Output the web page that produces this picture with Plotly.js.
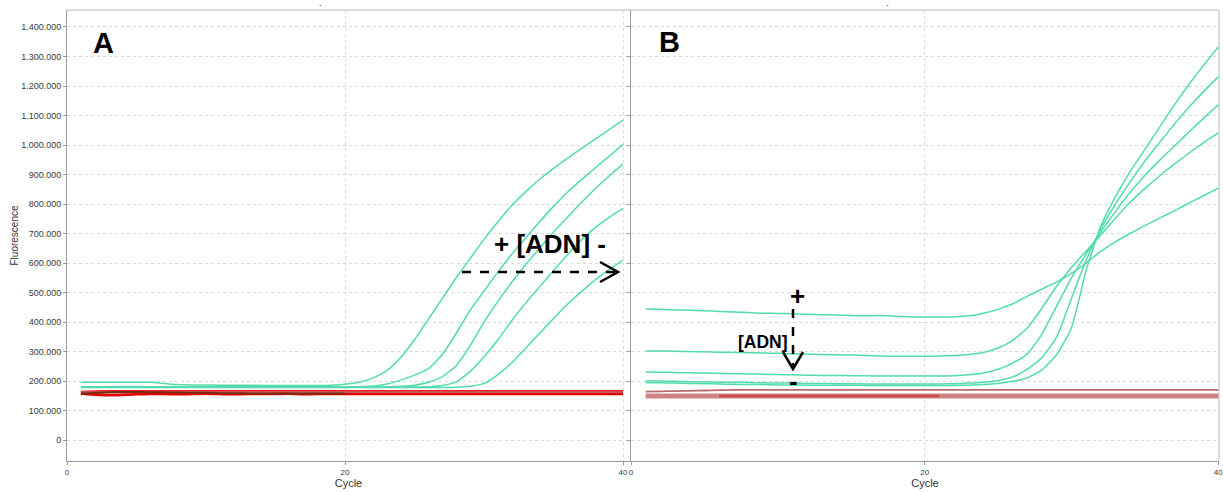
<!DOCTYPE html>
<html>
<head>
<meta charset="utf-8">
<script src="https://cdn.plot.ly/plotly-3.0.1.min.js"></script>
<style>
  html, body { margin: 0; padding: 0; background: #ffffff; }
  #chart { width: 1223px; height: 492px; }
</style>
</head>
<body>
<div id="chart"></div>
<script>
// Amplification cycles (x values shared by every curve)
const cycles = [1,2,3,4,5,6,7,8,9,10,11,12,13,14,15,16,17,18,19,20,
                21,22,23,24,25,26,27,28,29,30,31,32,33,34,35,36,37,38,39,40];

// Panel A: dilution series, fluorescence in thousands
const panelA_s1 = [196,196,196,196,196,196,192,188,187,187,186,186,186,185,185,185,185,185,186,189,
                   196,210,235,280,340,410,480,550,615,680,740,795,842,884,921,955,988,1020,1052,1085];
const panelA_s2 = [181,181,181,181,181,181,180,180,180,180,180,180,180,180,180,180,180,180,180,180,
                   181,183,190,203,220,242,290,362,440,505,570,630,685,740,792,840,882,922,962,1002];
const panelA_s3 = [180,180,180,180,180,180,180,180,180,180,180,180,180,180,180,180,180,180,180,180,
                   180,180,180,182,186,196,215,252,320,400,470,535,595,650,705,755,805,852,895,935];
const panelA_s4 = [179,179,179,179,179,179,179,179,179,179,179,179,179,179,179,179,179,179,179,179,
                   179,179,179,179,180,181,185,197,232,282,340,405,465,520,575,628,678,720,755,785];
const panelA_s5 = [178,178,178,178,178,178,178,178,178,178,178,178,178,178,178,178,178,178,178,178,
                   178,178,178,178,178,178,178,179,182,192,222,262,312,362,412,460,503,543,578,610];
// Panel A: negative controls
const panelA_n1 = [163,165,166,166,166,166,166,166,166,166,166,166,166,166,166,166,166,166,166,166,
                   166,166,166,166,166,166,166,166,166,166,166,166,166,166,166,166,166,166,166,166];
const panelA_n2 = [160,161,161,161,161,161,161,161,161,161,161,161,161,161,161,161,161,161,161,161,
                   161,161,161,161,161,161,161,161,161,161,161,161,161,161,161,161,161,161,161,161];
const panelA_n3 = [157,154,152,153,155,156,156,155,156,157,156,155,156,156,156,157,155,156,156,156,
                   156,156,156,156,156,156,156,156,156,156,156,156,156,156,156,156,156,156,156,156];
const panelA_n4 = [156,160,162,163,163,162,162,161,160,160,159,159,158,158,158,158,158,158,158,158,
                   null,null,null,null,null,null,null,null,null,null,null,null,null,null,null,null,null,null,null,null];

// Panel B: dilution series, fluorescence in thousands
const panelB_s1 = [444,443,441,440,438,436,434,432,430,429,428,426,425,424,422,421,422,420,418,417,
                   417,418,421,430,443,462,488,512,536,565,600,640,672,700,727,752,777,803,828,854];
const panelB_s2 = [302,302,301,300,299,298,297,296,295,294,292,291,290,289,288,287,285,284,284,284,
                   285,287,290,297,312,338,380,448,522,585,640,695,752,806,852,895,935,972,1008,1041];
const panelB_s3 = [231,230,229,228,227,226,225,224,223,222,221,220,219,219,218,218,217,217,217,217,
                   217,218,221,227,240,261,292,360,455,550,630,705,775,840,897,948,996,1044,1091,1136];
const panelB_s4 = [201,200,199,198,197,196,196,195,194,193,193,192,192,191,191,190,190,190,190,190,
                   190,191,193,196,202,214,240,280,350,480,610,715,800,875,945,1008,1070,1128,1181,1231];
const panelB_s5 = [194,194,193,192,191,190,189,188,188,187,187,186,186,186,186,185,185,185,185,185,
                   185,185,186,188,192,199,211,238,290,380,575,725,825,910,985,1060,1135,1205,1270,1332];
// Panel B: negative controls
const panelB_n1 = [164,165,166,167,168,169,170,170,170,170,170,170,170,170,170,170,170,170,170,170,
                   170,170,170,170,170,170,170,170,170,170,170,170,170,170,170,170,170,170,170,170];
const panelB_n2 = [149,149,149,149,149,149,149,149,149,149,149,149,149,149,149,149,149,149,149,149,
                   149,149,149,149,149,149,149,149,149,149,149,149,149,149,149,149,149,149,149,149];
const panelB_n3 = [null,null,null,null,null,149,149,149,149,149,149,149,149,149,149,149,149,149,149,149,
                   149,null,null,null,null,null,null,null,null,null,null,null,null,null,null,null,null,null,null,null];

// Axis ticks
const yTicks = [0,100000,200000,300000,400000,500000,600000,700000,800000,900000,1000000,1100000,1200000,1300000,1400000];
const xTicks = [0,20,40];
const xTickText = ['0','20','40'];

const W = 1223, H = 492;
const px = v => v / W;          // pixel column -> paper x
const py = v => 1 - v / H;      // pixel row -> paper y

const GREEN = '#52dcab';
const FONT = 'Liberation Sans, Arial, sans-serif';
const scale = arr => arr.map(v => v === null ? null : v * 1000);

function curve(vals, axis, color, width) {
  return {
    x: cycles, y: scale(vals), type: 'scatter', mode: 'lines',
    xaxis: axis === 2 ? 'x2' : 'x', yaxis: axis === 2 ? 'y2' : 'y',
    line: { color: color, width: width, shape: 'spline', smoothing: 0.5 },
    hoverinfo: 'skip', showlegend: false, connectgaps: false
  };
}

const traces = [
  // panel A controls
  curve(panelA_n1, 1, '#ff1a1a', 2.2),
  curve(panelA_n2, 1, 'rgba(170,110,110,0.85)', 2.5),
  curve(panelA_n3, 1, '#e80000', 2.6),
  curve(panelA_n4, 1, '#7a2a10', 2),
  // panel A samples
  curve(panelA_s1, 1, GREEN, 1.5),
  curve(panelA_s2, 1, GREEN, 1.5),
  curve(panelA_s3, 1, GREEN, 1.5),
  curve(panelA_s4, 1, GREEN, 1.5),
  curve(panelA_s5, 1, GREEN, 1.5),
  // panel B controls
  curve(panelB_n1, 2, 'rgba(175,80,80,0.85)', 1.8),
  curve(panelB_n2, 2, 'rgba(190,100,100,0.8)', 5),
  curve(panelB_n3, 2, 'rgba(215,30,30,0.6)', 2.5),
  // panel B samples
  curve(panelB_s1, 2, GREEN, 1.5),
  curve(panelB_s2, 2, GREEN, 1.5),
  curve(panelB_s3, 2, GREEN, 1.5),
  curve(panelB_s4, 2, GREEN, 1.5),
  curve(panelB_s5, 2, GREEN, 1.5)
];

const yDomain = [py(461), py(10)];
const yRange = [-71000, 1457600];
const gridStyle = { showgrid: true, gridcolor: '#dadada', griddash: 'dot', gridwidth: 1, zeroline: false };
const axisLine = { showline: true, linecolor: '#9a9a9a', linewidth: 1, ticks: 'outside', ticklen: 3, tickcolor: '#9a9a9a' };
const xTickFont = { family: FONT, size: 8, color: '#3a3a3a' };
const cycleTitle = { text: 'Cycle', font: { family: FONT, size: 11, color: '#333' }, standoff: 3 };

const layout = {
  width: W, height: H,
  margin: { l: 0, r: 0, t: 0, b: 0 },
  paper_bgcolor: '#ffffff', plot_bgcolor: '#ffffff',
  separators: ',.',
  showlegend: false,
  xaxis: Object.assign({
    domain: [px(67), px(630)], range: [0, 40.5], anchor: 'y',
    tickvals: xTicks, ticktext: xTickText, tickfont: xTickFont,
    ticklabeloverflow: 'allow', title: cycleTitle
  }, axisLine, gridStyle),
  yaxis: Object.assign({
    domain: yDomain, range: yRange, anchor: 'x',
    tickvals: yTicks, tickformat: ',d',
    tickfont: { family: FONT, size: 9, color: '#3a3a3a' },
    title: { text: 'Fluorescence', font: { family: FONT, size: 10, color: '#333' }, standoff: 0 }
  }, axisLine, gridStyle),
  xaxis2: Object.assign({
    domain: [px(631), px(1219)], range: [0, 40.05], anchor: 'y2',
    tickvals: xTicks, ticktext: xTickText, tickfont: xTickFont,
    ticklabeloverflow: 'allow', title: cycleTitle
  }, axisLine, gridStyle),
  yaxis2: Object.assign({
    domain: yDomain, range: yRange, anchor: 'x2',
    tickvals: yTicks, showticklabels: false
  }, axisLine, gridStyle),
  shapes: [
    // light frame on top/right of each panel
    { type: 'line', xref: 'paper', yref: 'paper', x0: px(67), x1: px(630), y0: py(10), y1: py(10), line: { color: '#dcdcdc', width: 2 }, layer: 'below' },
    { type: 'line', xref: 'paper', yref: 'paper', x0: px(631), x1: px(1219), y0: py(10), y1: py(10), line: { color: '#dcdcdc', width: 2 }, layer: 'below' },
    { type: 'line', xref: 'paper', yref: 'paper', x0: px(1219), x1: px(1219), y0: py(10), y1: py(461), line: { color: '#d0d0d0', width: 1.5 }, layer: 'below' },
    // horizontal dashed arrow (panel A)
    { type: 'line', xref: 'paper', yref: 'paper', x0: px(462), x1: px(616), y0: py(272), y1: py(272), line: { color: '#000', width: 2.5, dash: 'dash' } },
    { type: 'path', xref: 'paper', yref: 'paper',
      path: 'M ' + px(600) + ' ' + py(262) + ' L ' + px(618) + ' ' + py(272) + ' L ' + px(600) + ' ' + py(282),
      line: { color: '#000', width: 2.5 } },
    // vertical dashed arrow (panel B)
    { type: 'line', xref: 'paper', yref: 'paper', x0: px(793), x1: px(793), y0: py(309), y1: py(367), line: { color: '#000', width: 2.5, dash: 'dash' } },
    { type: 'path', xref: 'paper', yref: 'paper',
      path: 'M ' + px(783) + ' ' + py(352) + ' L ' + px(793) + ' ' + py(369) + ' L ' + px(803) + ' ' + py(352),
      line: { color: '#000', width: 2.5 } }
  ],
  annotations: [
    { text: '<b>A</b>', x: px(103), y: py(43), size: 29 },
    { text: '<b>B</b>', x: px(669), y: py(42), size: 29 },
    { text: '<b>+ [ADN] -</b>', x: px(550), y: py(244), size: 26 },
    { text: '<b>+</b>', x: px(797), y: py(296), size: 26 },
    { text: '<b>[ADN]</b>', x: px(763), y: py(342), size: 17.5 },
    { text: '<b>-</b>', x: px(793), y: py(381), size: 26 },
    { text: '-', x: px(320), y: py(4), size: 8 },
    { text: '-', x: px(887), y: py(4), size: 8 }
  ].map(a => ({
    text: a.text, xref: 'paper', yref: 'paper', x: a.x, y: a.y,
    xanchor: 'center', yanchor: 'middle', showarrow: false,
    font: { family: FONT, size: a.size, color: a.size > 10 ? '#000' : '#333' }
  }))
};

Plotly.newPlot('chart', traces, layout, { staticPlot: true, displayModeBar: false });
</script>
</body>
</html>
